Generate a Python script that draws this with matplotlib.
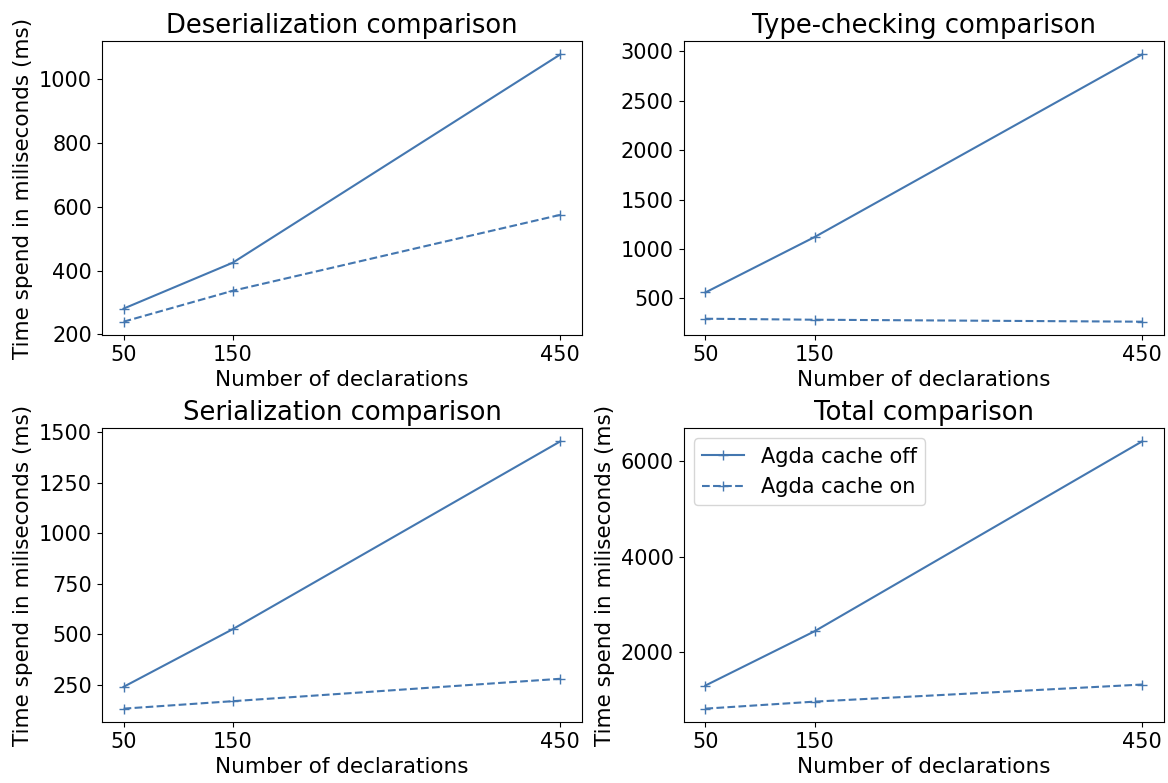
import matplotlib
matplotlib.use("Agg")
import matplotlib.pyplot as plt

declarations = [50, 150, 450]

deser_off = [281, 425, 1078]
deser_on = [240, 337, 575]

tc_off = [560, 1121, 2970]
tc_on = [294, 284, 264]

ser_off = [239, 525, 1456]
ser_on = [131, 168, 279]

total_off = [1305, 2442, 6420]
total_on = [821, 968, 1326]

color = '#4477b0'

plt.rcParams['font.size'] = 15

fig, axs = plt.subplots(2, 2, figsize=(11.68, 7.83), dpi=100)

panels = [
    (axs[0, 0], 'Deserialization comparison', deser_off, deser_on, True),
    (axs[0, 1], 'Type-checking comparison', tc_off, tc_on, False),
    (axs[1, 0], 'Serialization comparison', ser_off, ser_on, True),
    (axs[1, 1], 'Total comparison', total_off, total_on, True),
]

for ax, title, off, on, ylab in panels:
    ax.plot(declarations, off, marker='+', markersize=7, color=color, linestyle='-', label='Agda cache off')
    ax.plot(declarations, on, marker='+', markersize=7, color=color, linestyle='--', label='Agda cache on')
    ax.set_title(title, fontsize=18.6)
    ax.set_xticks(declarations)
    ax.set_xlabel('Number of declarations', fontsize=15.5)
    if ylab:
        ax.set_ylabel('Time spend in miliseconds (ms)', fontsize=15.5)

axs[1, 1].set_yticks([2000, 4000, 6000])
axs[1, 1].legend(loc='upper left')

plt.subplots_adjust(left=0.0871, right=0.9966, top=0.9476, bottom=0.0779, wspace=0.211, hspace=0.316)
plt.savefig('out.png')
